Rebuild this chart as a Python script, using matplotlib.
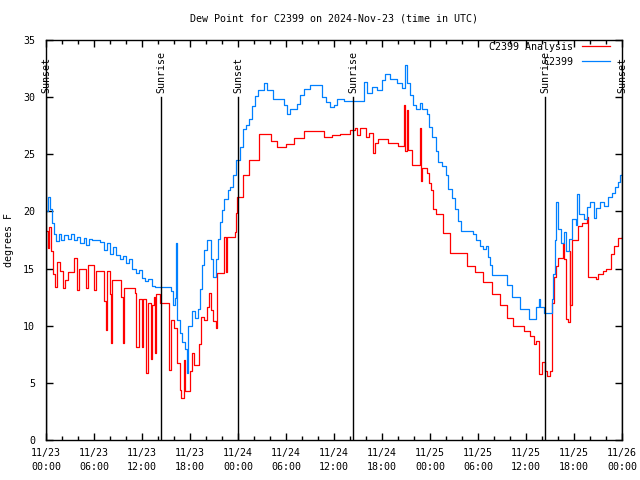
"""Dew point plot for station C2399, 2024-Nov-23 to Nov-26 (gnuplot look)."""

import datetime as dt

import matplotlib
matplotlib.use("Agg")
import matplotlib.dates as mdates
import matplotlib.pyplot as plt

START = dt.datetime(2024, 11, 23, 0, 0)

# observed station dew point (F), step data: hours after START, value
obs_hours = [0.0, 0.2, 0.45, 0.7, 1.0, 1.3, 1.6, 1.9, 2.3, 2.7, 3.1, 3.5, 3.9, 4.3, 4.7, 5.0,
             5.4, 5.8, 6.8, 7.2, 7.6, 8.0, 8.4, 8.8, 9.2, 9.6, 10.0, 10.4, 10.8, 11.2, 11.6,
             12.0, 12.4, 12.8, 13.2, 13.6, 15.6, 15.9, 16.1, 16.25, 16.4, 16.7, 17.0, 17.4,
             17.6, 17.8, 18.2, 18.6, 19.0, 19.2, 19.5, 19.8, 20.1, 20.6, 20.9, 21.2, 21.5,
             21.8, 22.0, 22.3, 22.7, 23.0, 23.4, 23.8, 24.2, 24.6, 25.0, 25.4, 25.8, 26.1,
             26.5, 27.2, 27.6, 28.4, 29.8, 30.1, 30.5, 31.4, 31.7, 32.2, 33.0, 34.5, 35.0,
             35.5, 36.0, 36.4, 37.3, 39.8, 40.1, 40.8, 41.4, 42.0, 42.4, 43.0, 43.9, 44.5,
             44.9, 45.1, 45.5, 45.9, 46.3, 46.8, 47.0, 47.6, 47.9, 48.3, 48.7, 49.0, 49.5,
             50.0, 50.3, 50.7, 51.1, 51.5, 51.9, 53.4, 53.8, 54.2, 54.6, 55.0, 55.2, 55.5,
             55.8, 56.2, 57.6, 58.3, 59.3, 60.4, 61.3, 61.6, 61.8, 62.2, 63.2, 63.4, 63.6,
             63.8, 64.0, 64.4, 64.7, 65.0, 65.4, 65.8, 66.2, 66.4, 66.6, 67.2, 67.6, 68.0,
             68.5, 68.7, 69.3, 69.8, 70.3, 70.7, 71.1, 71.5, 71.8, 72.0]
obs_values = [20.0, 21.3, 20.2, 19.0, 18.0, 17.4, 18.0, 17.5, 17.9, 17.6, 18.0, 17.5, 17.8, 17.2,
              17.7, 17.1, 17.6, 17.5, 17.3, 16.6, 17.2, 16.3, 16.9, 16.2, 15.8, 16.1, 15.5,
              15.8, 15.0, 14.6, 14.9, 14.2, 13.9, 14.1, 13.5, 13.4, 13.0, 11.8, 12.4, 17.2,
              10.5, 9.4, 8.6, 8.0, 5.9, 10.0, 11.3, 10.7, 11.5, 13.2, 15.3, 16.6, 17.5, 15.8,
              14.3, 15.8, 17.6, 19.1, 20.1, 21.1, 21.9, 22.1, 23.2, 24.5, 25.6, 27.2, 27.6,
              28.1, 29.2, 30.1, 30.6, 31.2, 30.6, 29.8, 29.3, 28.5, 29.0, 29.4, 30.2, 30.7,
              31.1, 30.0, 29.6, 29.1, 29.3, 29.8, 29.7, 31.3, 30.4, 30.9, 30.6, 31.5, 32.0,
              31.6, 31.2, 30.8, 32.8, 31.2, 30.2, 29.3, 29.0, 29.5, 29.0, 28.5, 27.4, 26.5,
              25.3, 24.3, 24.0, 23.2, 22.0, 21.2, 20.2, 19.2, 18.3, 18.0, 17.5, 17.0, 16.7,
              17.0, 16.0, 15.3, 14.4, 14.4, 13.6, 12.5, 11.5, 10.6, 11.6, 12.3, 11.6, 11.1,
              12.3, 14.5, 17.5, 20.8, 18.5, 17.2, 18.2, 16.5, 17.6, 19.3, 18.8, 21.5, 19.8,
              19.3, 20.4, 20.8, 19.4, 20.3, 20.8, 20.5, 21.3, 21.6, 22.1, 22.6, 23.2, 23.3]

# analysis dew point (F)
ana_hours = [0.0, 0.2, 0.4, 0.6, 0.9, 1.1, 1.4, 1.8, 2.1, 2.4, 2.7, 3.5, 3.9, 4.1, 5.0, 5.2,
             6.0, 6.2, 7.3, 7.5, 7.65, 8.0, 8.1, 8.25, 9.4, 9.6, 9.75, 11.1, 11.25, 11.6, 12.0,
             12.15, 12.55, 12.7, 13.15, 13.3, 13.45, 13.6, 13.75, 14.3, 15.4, 15.6, 16.0,
             16.4, 16.7, 16.9, 17.2, 17.4, 18.0, 18.3, 18.5, 19.1, 19.4, 19.7, 20.1, 20.4,
             20.6, 20.9, 21.2, 21.4, 22.3, 22.45, 22.6, 23.6, 23.75, 23.9, 24.6, 25.4, 26.6,
             28.1, 28.9, 30.0, 31.0, 32.2, 34.7, 35.75, 36.8, 38.0, 38.6, 38.9, 39.2, 40.0,
             40.4, 40.9, 41.1, 41.5, 42.7, 44.0, 44.75, 44.9, 45.15, 45.3, 45.8, 46.8, 46.9,
             47.05, 47.6, 47.9, 48.1, 48.4, 48.7, 49.6, 50.5, 52.6, 53.6, 54.6, 55.7, 56.7,
             57.6, 58.4, 59.7, 60.5, 61.0, 61.2, 61.6, 62.0, 62.4, 62.6, 63.0, 63.3, 63.5,
             63.8, 64.0, 64.6, 64.8, 64.95, 65.3, 65.45, 65.55, 65.7, 66.5, 67.0, 67.6, 67.75,
             68.8, 69.0, 69.6, 70.0, 70.6, 71.0, 71.5, 72.0]
ana_values = [18.3, 16.8, 18.6, 16.5, 14.5, 13.4, 15.6, 14.8, 13.3, 14.0, 14.7, 15.9, 13.1, 15.0,
              13.3, 15.3, 13.1, 14.8, 12.2, 9.6, 14.8, 12.8, 8.5, 14.0, 12.5, 8.5, 13.3, 12.9,
              8.1, 12.3, 8.1, 12.3, 5.9, 12.0, 7.1, 11.8, 12.5, 7.6, 12.8, 12.0, 6.1, 10.5, 9.8,
              6.7, 4.4, 3.7, 7.0, 4.3, 6.0, 7.6, 6.6, 8.4, 10.8, 10.5, 11.6, 12.9, 11.4, 10.4,
              9.8, 14.6, 17.8, 14.7, 17.8, 18.2, 19.9, 21.3, 23.2, 24.5, 26.8, 26.2, 25.6, 25.9,
              26.4, 27.0, 26.5, 26.7, 26.8, 27.1, 27.3, 26.7, 27.3, 26.5, 26.9, 25.1, 26.0,
              26.3, 26.0, 25.7, 29.3, 25.3, 28.9, 25.4, 24.1, 27.3, 22.7, 23.8, 23.4, 22.5,
              21.9, 20.2, 19.8, 18.1, 16.4, 15.2, 14.7, 13.8, 12.8, 11.8, 10.7, 10.0, 9.5, 9.1,
              8.4, 8.7, 5.8, 6.8, 6.0, 5.6, 6.0, 12.0, 14.3, 15.2, 15.9, 17.2, 15.8, 10.6,
              10.3, 16.5, 11.8, 17.5, 18.7, 19.0, 19.5, 14.3, 14.1, 14.5, 14.8, 15.0, 16.3,
              17.0, 17.7, 17.8]

sunset_hours = [0.0, 24.0, 72.0]
sunrise_hours = [14.4, 38.4, 62.4]

RED = "#ff0000"
BLUE = "#0080ff"
FONT = "DejaVu Sans Mono"
FS = 7.2


def to_dates(hours):
    return [START + dt.timedelta(hours=h) for h in hours]


def main():
    plt.rcParams["font.family"] = FONT
    plt.rcParams["font.size"] = FS

    fig = plt.figure(figsize=(6.4, 4.8), dpi=100)
    ax = fig.add_axes([46 / 640, 40 / 480, 576 / 640, 400 / 480])

    ax.plot(to_dates(ana_hours), ana_values, color=RED, lw=0.9, drawstyle="steps-post",
            label="C2399 Analysis")
    ax.plot(to_dates(obs_hours), obs_values, color=BLUE, lw=0.9, drawstyle="steps-post",
            label="C2399")

    # sun markers
    for hours, name in ((sunset_hours, "Sunset"), (sunrise_hours, "Sunrise")):
        for t in to_dates(hours):
            ax.plot([t, t], [0, 30], color="black", lw=1.0)
            ax.text(t, 30.4, name, rotation=90, ha="center", va="bottom", fontsize=FS)

    ax.set_xlim(START, START + dt.timedelta(hours=72))
    ax.set_ylim(0, 35)
    ax.set_yticks(range(0, 36, 5))
    ax.xaxis.set_major_locator(mdates.HourLocator(byhour=range(0, 24, 6)))
    ax.xaxis.set_minor_locator(mdates.HourLocator(byhour=range(0, 24, 2)))
    ax.xaxis.set_major_formatter(mdates.DateFormatter("%m/%d\n%H:%M"))
    for lbl in ax.get_xticklabels():
        lbl.set_linespacing(1.45)
    ax.tick_params(which="both", direction="in", top=True, right=True, width=1.0)
    ax.tick_params(which="major", length=5, pad=6)
    ax.tick_params(axis="y", pad=8)
    ax.tick_params(which="minor", length=3)
    for s in ax.spines.values():
        s.set_linewidth(1.0)

    ax.set_title("Dew Point for C2399 on 2024-Nov-23 (time in UTC)", fontsize=FS, pad=13)
    ax.set_ylabel("degrees F")
    ax.yaxis.set_label_coords(-0.055, 0.5)

    ax.legend(loc="upper right", bbox_to_anchor=(0.979, 0.995), markerfirst=False,
              frameon=False, handlelength=2.8, borderaxespad=0.0, labelspacing=0.5,
              handletextpad=0.9, fontsize=FS, borderpad=0.0)

    fig.savefig("out.png", dpi=100)
    plt.close(fig)


if __name__ == "__main__":
    main()
